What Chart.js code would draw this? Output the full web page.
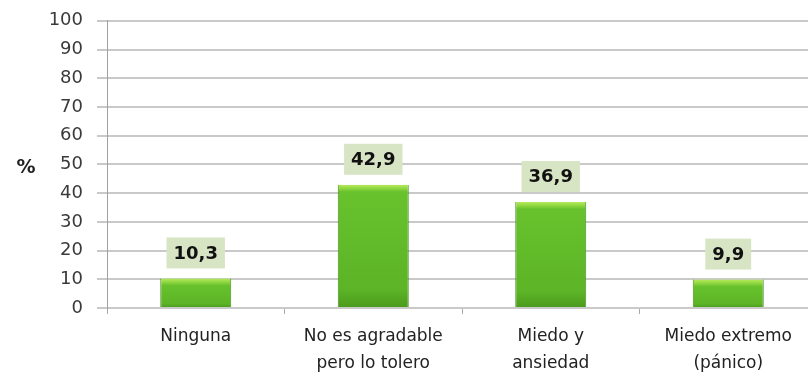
<!DOCTYPE html>
<html>
<head>
<meta charset="utf-8">
<script src="https://cdn.jsdelivr.net/npm/chart.js@4"></script>
<style>
  html, body { margin: 0; padding: 0; background: #fff; overflow: hidden; }
  #wrap { width: 818px; height: 382px; margin-top: -4px; position: relative; }
</style>
</head>
<body>
<div id="wrap"><canvas id="myChart"></canvas></div>
<script>
// categories and values
const categories = [
    "Ninguna",
    ["No es agradable", "pero lo tolero"],
    ["Miedo y", "ansiedad"],
    ["Miedo extremo", "(pánico)"]
];
const values = [10.3, 42.9, 36.9, 9.9];
const valueLabels = ["10,3", "42,9", "36,9", "9,9"];
const yTicks = [0, 10, 20, 30, 40, 50, 60, 70, 80, 90, 100];

const FONT = "'DejaVu Sans', sans-serif";

// green bar fill, lighter bevel at the top
function barFill(ctx){
    const chart = ctx.chart;
    const y = chart.scales.y;
    if(!y || ctx.raw === undefined) return "#5fba2a";
    const top = y.getPixelForValue(ctx.raw);
    const bottom = y.getPixelForValue(0);
    if(!isFinite(top) || !isFinite(bottom) || bottom - top < 1) return "#5fba2a";
    const h = bottom - top;
    const g = chart.ctx.createLinearGradient(0, top, 0, bottom);
    const s = Math.min(7 / h, 0.5);
    g.addColorStop(0, "#b4ea5a");
    g.addColorStop(s * 0.5, "#92d842");
    g.addColorStop(s, "#68c22d");
    g.addColorStop(0.85, "#5cb426");
    g.addColorStop(1, "#4a9a1c");
    return g;
}

// value boxes above bars and the "%" title
const labelPlugin = {
    id: "labels",
    afterDatasetsDraw(chart){
        const c = chart.ctx;
        const meta = chart.getDatasetMeta(0);
        c.save();
        c.font = "bold 18px " + FONT;
        c.textAlign = "center";
        c.textBaseline = "middle";
        meta.data.forEach((bar, i) => {
            const txt = valueLabels[i];
            const w = c.measureText(txt).width + 14;
            const h = 31;
            const bottom = bar.y - 10;
            c.fillStyle = "#d8e5c5";
            c.fillRect(bar.x - w / 2, bottom - h, w, h);
            c.fillStyle = "#111";
            c.fillText(txt, bar.x, bottom - h / 2 + 1);
        });
        c.font = "bold 19px " + FONT;
        c.fillStyle = "#222";
        c.fillText("%", 26, chart.scales.y.getPixelForValue(50) + 4);
        c.restore();
    }
};

new Chart(document.getElementById("myChart"), {
    type: "bar",
    data: {
        labels: categories,
        datasets: [{
            data: values,
            backgroundColor: barFill,
            borderColor: "#4a8d1e",
            borderWidth: {left: 1, right: 1, top: 0, bottom: 0},
            borderSkipped: false,
            barPercentage: 0.4,
            categoryPercentage: 1
        }]
    },
    options: {
        responsive: true,
        maintainAspectRatio: false,
        animation: false,
        layout: { padding: { top: 8, right: 1, left: 0, bottom: 0 } },
        plugins: {
            legend: { display: false },
            tooltip: { enabled: false }
        },
        scales: {
            x: {
                offset: true,
                grid: {
                    offset: true,
                    drawOnChartArea: false,
                    drawTicks: true,
                    tickLength: 6,
                    color: "#a8a8a8"
                },
                border: { display: false },
                ticks: {
                    color: "#222",
                    font: { family: FONT, size: 17, lineHeight: 1.6 },
                    padding: 9,
                    maxRotation: 0,
                    autoSkip: false
                },
                afterFit(scale){ scale.height = 70; }
            },
            y: {
                min: 0,
                max: 100,
                afterBuildTicks(scale){ scale.ticks = yTicks.map(v => ({value: v})); },
                grid: {
                    color: "#c9c9c9",
                    lineWidth: 2,
                    tickLength: 10
                },
                border: { display: true, color: "#a0a0a0", width: 1 },
                ticks: {
                    color: "#3a3a3a",
                    font: { family: FONT, size: 18 },
                    padding: 14
                },
                afterFit(scale){ scale.width = 107; }
            }
        }
    },
    plugins: [labelPlugin]
});
</script>
</body>
</html>
